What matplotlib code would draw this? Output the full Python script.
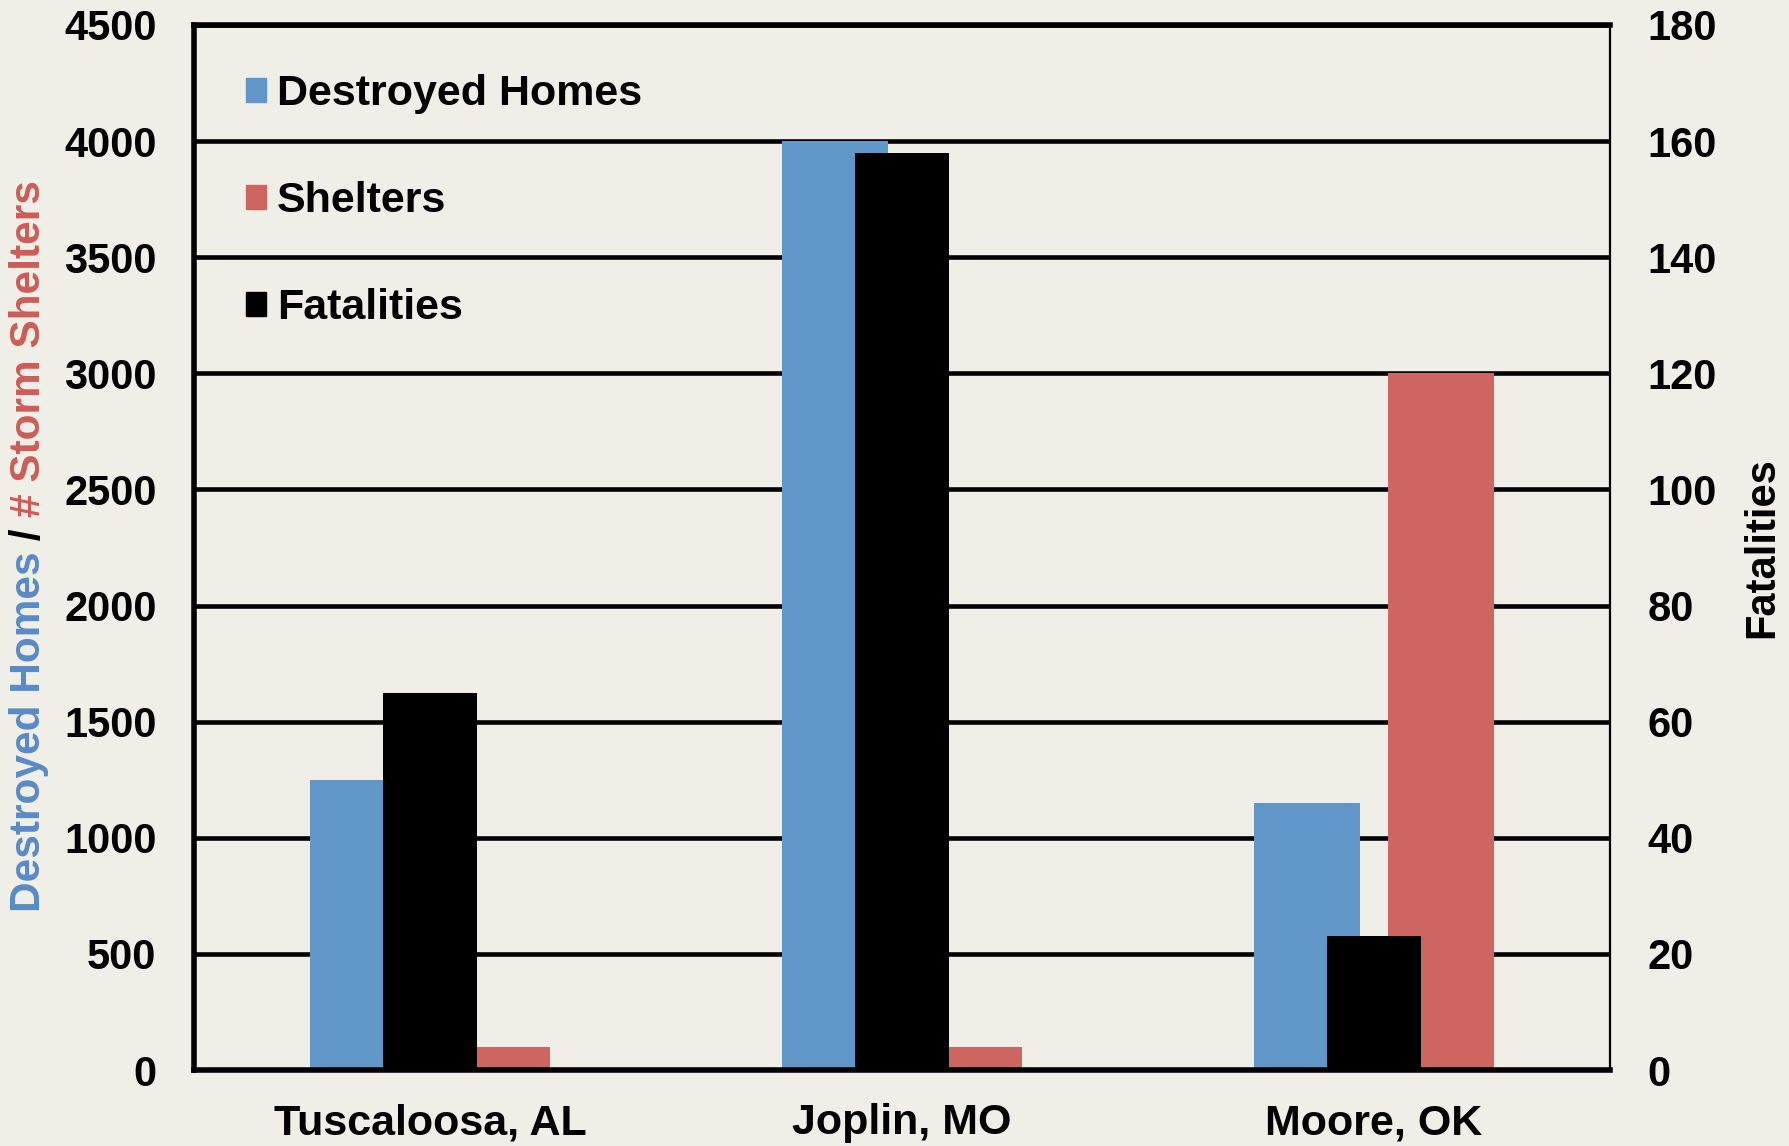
import numpy as np
import matplotlib
matplotlib.use("Agg")
import matplotlib.pyplot as plt
from matplotlib.patches import Patch

cities = ["Tuscaloosa, AL", "Joplin, MO", "Moore, OK"]
homes = [1250, 4000, 1150]
shelters = [100, 100, 3000]
fatalities = [65, 158, 23]

bg = "#f0efe7"
blue = "#6196c9"
red = "#cd6660"
plt.rcParams["font.family"] = ["Liberation Sans", "DejaVu Sans"]
plt.rcParams["font.weight"] = "bold"

fig = plt.figure(figsize=(17.9, 11.46), dpi=100, facecolor=bg)
ax = fig.add_axes([0.1084, 0.0663, 0.791, 0.9119])
ax.set_facecolor(bg)
ax2 = ax.twinx()

x = np.arange(len(cities))
ax.bar(x - 0.142, homes, width=0.225, color=blue, zorder=2)
ax.bar(x + 0.142, shelters, width=0.225, color=red, zorder=2)
ax2.bar(x, fatalities, width=0.2, color="black", zorder=2)

ax.set_xlim(-0.5, 2.5)
ax.set_ylim(0, 4500)
ax.set_yticks(np.arange(0, 4501, 500))
ax2.set_ylim(0, 180)
ax2.set_yticks(np.arange(0, 181, 20))
ax.set_xticks(x)
ax.set_xticklabels(cities, fontsize=31, fontweight="bold")
ax.grid(axis="y", color="black", lw=3.3, zorder=0)
ax.set_axisbelow(True)

ax.tick_params(axis="y", length=0, pad=27, labelsize=30)
ax.tick_params(axis="x", length=0, pad=24)
ax2.tick_params(axis="y", length=0, pad=27, labelsize=30)
for t in ax.get_yticklabels() + ax2.get_yticklabels():
    t.set_fontweight("bold")

for s in ax.spines.values():
    s.set_visible(False)
for k in ["left", "bottom", "top"]:
    ax2.spines[k].set_linewidth(4)
ax2.spines["right"].set_linewidth(1.6)

ax2.set_ylabel("Fatalities", fontsize=30, fontweight="bold",
               rotation=90, labelpad=18)

handles = [Patch(color=blue), Patch(color=red), Patch(color="black")]
ax2.legend(handles, ["Destroyed Homes", "Shelters", "Fatalities"],
           loc="upper left", bbox_to_anchor=(0.0365, 0.953), frameon=False,
           prop={"size": 31, "weight": "bold"}, handlelength=0.47,
           handleheight=0.47, handletextpad=0.25, labelspacing=1.56,
           borderpad=0, borderaxespad=0)

# multi-coloured left axis label
fig.canvas.draw()
r = fig.canvas.get_renderer()
parts = [("Destroyed Homes", "#5a8ac6"), (" / ", "black"), ("# Storm Shelters", "#cc5c57")]
xl = 29 / 1790
texts = []
y = 0
for s, c in parts:
    t = fig.text(xl, y, s, rotation=90, color=c, fontsize=30.5,
                 fontweight="bold", ha="center", va="bottom")
    texts.append(t)
    bb = t.get_window_extent(r)
    y = y + bb.height / fig.bbox.height
shift = (1 - 546 / 1146) - y / 2
y = shift
for t in texts:
    t.set_y(y)
    y += t.get_window_extent(r).height / fig.bbox.height

fig.savefig("out.png", dpi=100, facecolor=bg)
